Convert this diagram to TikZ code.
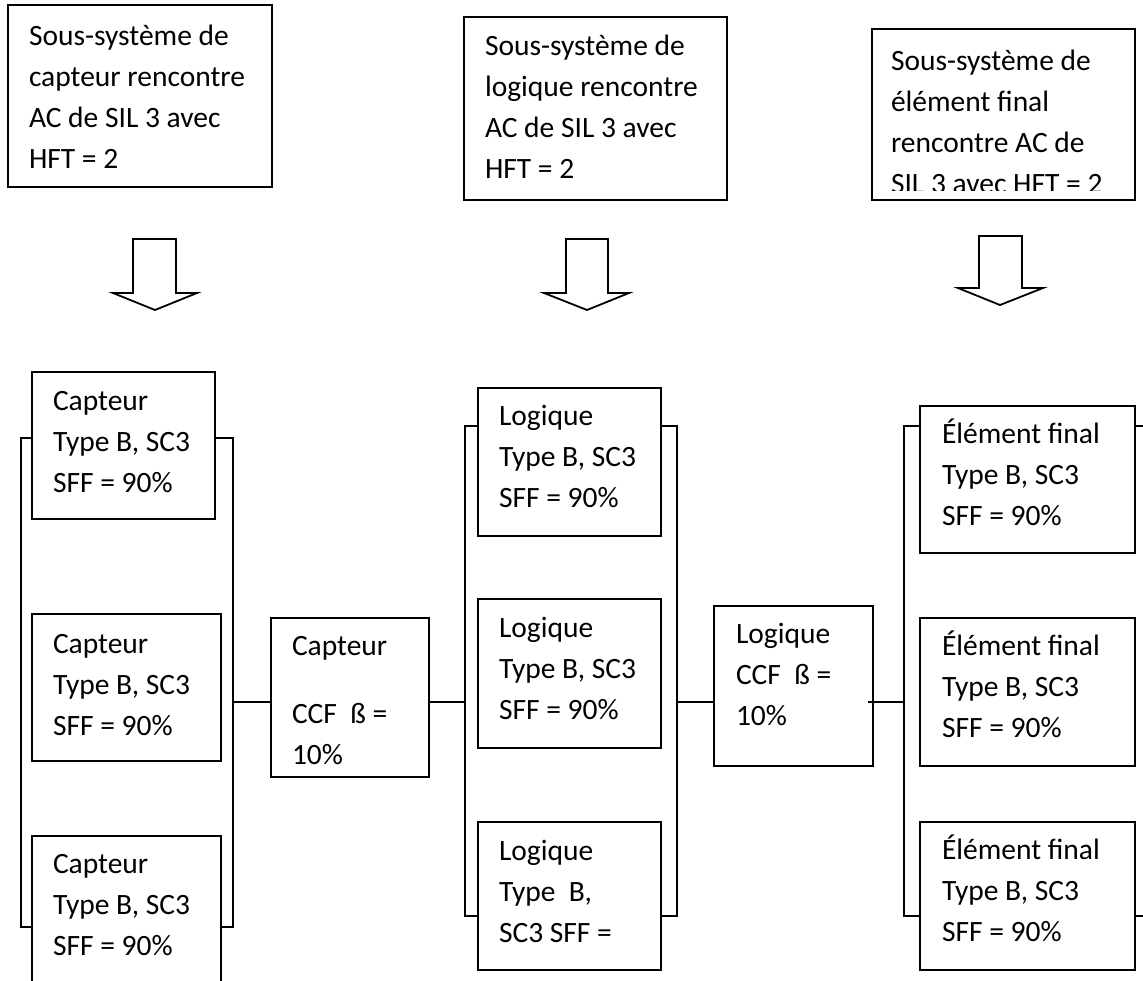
\documentclass[tikz,border=0pt]{standalone}
\usepackage{fontspec}
\setmainfont{Carlito}
\begin{document}
\begin{tikzpicture}[x=1pt,y=-1pt,
  box/.style={draw=black, line width=2.1pt, anchor=north west, inner sep=0pt, outer sep=0pt},
  txt/.style={anchor=north west, inner sep=0pt, outer sep=0pt, align=left, font=\fontsize{29.5}{41}\selectfont},
  bus/.style={draw=black, line width=1.9pt},
  blockarrow/.style={draw=black, line width=1.8pt, fill=white, line join=miter}]
\clip (0,0) rectangle (1143,980);
\fill[white] (0,0) rectangle (1143,980);

% top boxes
\node[box, minimum width=264, minimum height=182] (T1) at (8,5) {};
\node[txt] (T1t) at (29,16.3) {\strut Sous-système de\\capteur rencontre\\AC de SIL 3 avec\\HFT = 2};
\node[box, minimum width=263, minimum height=183] (T2) at (464,17) {};
\node[txt] (T2t) at (485,26.3) {\strut Sous-système de\\logique rencontre\\AC de SIL 3 avec\\HFT = 2};
\node[box, minimum width=263, minimum height=171] (T3) at (872,29) {};
\begin{scope}
\clip (872,29) rectangle (1135,190);
\node[txt] (T3t) at (891,41.3) {\strut Sous-système de\\élément final\\rencontre AC de\\SIL 3 avec HFT = 2};
\end{scope}

% block arrows
\draw[blockarrow] (133,239) -- (176,239) -- (176,293) -- (197,293) -- (155,310) -- (113,293) -- (133,293) -- cycle;
\draw[blockarrow] (566,239) -- (608,239) -- (608,293) -- (629,293) -- (587,310) -- (544,293) -- (566,293) -- cycle;
\draw[blockarrow] (979,236) -- (1022,236) -- (1022,288) -- (1043,288) -- (1000,305) -- (958,288) -- (979,288) -- cycle;

% bus coordinates
\coordinate (ctop) at (0,438);
\coordinate (cbl) at (21,927);
\coordinate (cbr) at (233,927);
\coordinate (ltop) at (0,426);
\coordinate (lbl) at (465,916);
\coordinate (lbr) at (677,916);
\coordinate (etop) at (0,426);
\coordinate (ebl) at (904,916);
\coordinate (ebr) at (1152,916);
\coordinate (mid) at (0,702);
\coordinate (lcout) at (868,702);

% capteur column
\node[box, minimum width=183, minimum height=147] (C1) at (32,372) {};
\node[txt] (C1t) at (53,381.3) {\strut Capteur\\Type B, SC3\\SFF = 90\%};
\node[box, minimum width=189, minimum height=147] (C2) at (32,614) {};
\node[txt] (C2t) at (53,624.3) {\strut Capteur\\Type B, SC3\\SFF = 90\%};
\node[box, minimum width=189, minimum height=200] (C3) at (32,836) {};
\node[txt] (C3t) at (53,844.3) {\strut Capteur\\Type B, SC3\\SFF = 90\%};
\draw[bus] (C1.west |- ctop) -| (cbl) -- (C3.west |- cbl);
\draw[bus] (C1.east |- ctop) -| (cbr) -- (C3.east |- cbr);

% CCF capteur
\node[box, minimum width=158, minimum height=159] (CC) at (271,618) {};
\node[txt] (CCt) at (292,626.3) {\strut Capteur\\[27pt]CCF\ \ ß =\\10\%};
\draw[bus] (cbr |- mid) -- (CC.west |- mid);

% logique column
\node[box, minimum width=183, minimum height=148] (L1) at (478,388) {};
\node[txt] (L1t) at (499,396.3) {\strut Logique\\Type B, SC3\\SFF = 90\%};
\node[box, minimum width=183, minimum height=149] (L2) at (478,599) {};
\node[txt] (L2t) at (499,608.3) {\strut Logique\\Type B, SC3\\SFF = 90\%};
\node[box, minimum width=183, minimum height=148] (L3) at (478,822) {};
\node[txt] (L3t) at (499,831.3) {\strut Logique\\Type\ \ B,\\SC3 SFF =};
\draw[bus] (L1.west |- ltop) -| (lbl) -- (L3.west |- lbl);
\draw[bus] (L1.east |- ltop) -| (lbr) -- (L3.east |- lbr);
\draw[bus] (CC.east |- mid) -- (lbl |- mid);

% CCF logique
\node[box, minimum width=159, minimum height=160] (LC) at (714,606) {};
\node[txt] (LCt) at (736,614.3) {\strut Logique\\CCF\ \ ß =\\10\%};
\draw[bus] (lbr |- mid) -- (LC.west |- mid);

% element final column
\node[box, minimum width=215, minimum height=147] (E1) at (920,406) {};
\node[txt] (E1t) at (942,414.3) {\strut Élément final\\Type B, SC3\\SFF = 90\%};
\node[box, minimum width=215, minimum height=148] (E2) at (920,618) {};
\node[txt] (E2t) at (942,626.3) {\strut Élément final\\Type B, SC3\\SFF = 90\%};
\node[box, minimum width=215, minimum height=148] (E3) at (920,822) {};
\node[txt] (E3t) at (942,830.3) {\strut Élément final\\Type B, SC3\\SFF = 90\%};
\draw[bus] (E1.west |- etop) -| (ebl) -- (E3.west |- ebl);
\draw[bus] (E1.east |- etop) -| (ebr) -- (E3.east |- ebr);
\draw[bus] (lcout) -- (ebl |- lcout);
\end{tikzpicture}
\end{document}
